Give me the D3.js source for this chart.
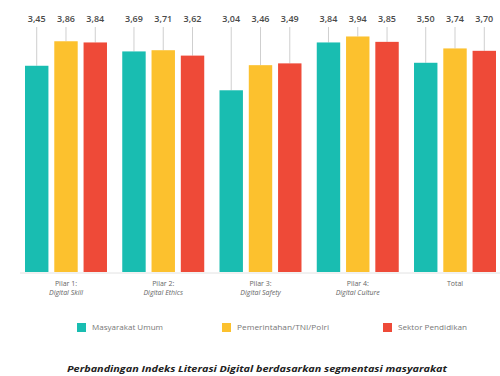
<!DOCTYPE html>
<html>
<head>
<meta charset="utf-8">
<script src="https://cdn.jsdelivr.net/npm/d3@7"></script>
<style>
html,body{margin:0;padding:0;background:#fff;}
svg{display:block;font-family:"Open Sans",sans-serif;}
</style>
</head>
<body>
<svg id="chart" width="500" height="376"></svg>
<script>
const categories = ["Pilar 1:|Digital Skill", "Pilar 2:|Digital Ethics", "Pilar 3:|Digital Safety", "Pilar 4:|Digital Culture", "Total"];
const seriesNames = ["Masyarakat Umum", "Pemerintahan/TNI/Polri", "Sektor Pendidikan"];
const masyarakatUmum = [3.45, 3.69, 3.04, 3.84, 3.50];
const pemerintahan = [3.86, 3.71, 3.46, 3.94, 3.74];
const sektorPendidikan = [3.84, 3.62, 3.49, 3.85, 3.70];
const colors = ["#19bdb1", "#fcc12e", "#ee4a38"];

const series = [masyarakatUmum, pemerintahan, sektorPendidikan];
const svg = d3.select("#chart");

const y = d3.scaleLinear().domain([0, 4.5]).range([272, 3]);
const x0 = d3.scaleBand().domain(categories).range([25, 496]).paddingInner(0.157).paddingOuter(0);
const x1 = d3.scaleBand().domain(seriesNames).range([0, x0.bandwidth()]).paddingInner(0.2).paddingOuter(0);
const fmt = v => d3.format(".2f")(v).replace(".", ",");

// baseline
svg.append("line").attr("x1", 20).attr("x2", 500).attr("y1", y(0) + 1).attr("y2", y(0) + 1)
  .attr("stroke", "#e2e2e2").attr("stroke-width", 1);

const groups = svg.selectAll("g.grp").data(categories).join("g")
  .attr("class", "grp").attr("transform", d => `translate(${x0(d)},0)`);

groups.each(function(cat, ci) {
  const g = d3.select(this);
  seriesNames.forEach((s, si) => {
    const v = series[si][ci];
    const cx = x1(s) + x1.bandwidth() / 2;
    g.append("line").attr("x1", cx).attr("x2", cx).attr("y1", 27).attr("y2", y(v))
      .attr("stroke", "#cfcfcf").attr("stroke-width", 1);
    g.append("rect").attr("x", x1(s)).attr("width", x1.bandwidth())
      .attr("y", y(v)).attr("height", y(0) - y(v)).attr("fill", colors[si]);
    g.append("text").attr("x", cx).attr("y", 22).attr("text-anchor", "middle")
      .attr("font-size", 9).attr("font-weight", 600).attr("fill", "#4a4a4a").text(fmt(v));
  });
  const parts = cat.split("|");
  const cx = x0.bandwidth() / 2;
  g.append("text").attr("x", cx).attr("y", 286).attr("text-anchor", "middle")
    .attr("font-size", 7).attr("fill", "#666").text(parts[0]);
  if (parts[1]) {
    g.append("text").attr("x", cx).attr("y", 295).attr("text-anchor", "middle")
      .attr("font-size", 7).attr("font-style", "italic").attr("fill", "#666").text(parts[1]);
  }
});

// legend
const legendX = [77, 222, 383];
const legendW = [71, 92, 69];
const leg = svg.selectAll("g.leg").data(seriesNames).join("g")
  .attr("class", "leg").attr("transform", (d, i) => `translate(${legendX[i]},323)`);
leg.append("rect").attr("width", 9).attr("height", 9).attr("fill", (d, i) => colors[i]);
leg.append("text").attr("x", 15).attr("y", 7).attr("font-size", 7.5).attr("fill", "#777")
  .attr("textLength", (d, i) => legendW[i]).attr("lengthAdjust", "spacingAndGlyphs").text(d => d);

// title
svg.append("text").attr("x", 257).attr("y", 372).attr("text-anchor", "middle")
  .attr("font-size", 9.5).attr("font-weight", 700).attr("font-style", "italic")
  .attr("textLength", 380).attr("lengthAdjust", "spacingAndGlyphs")
  .attr("fill", "#222").text("Perbandingan Indeks Literasi Digital berdasarkan segmentasi masyarakat");
</script>
</body>
</html>
